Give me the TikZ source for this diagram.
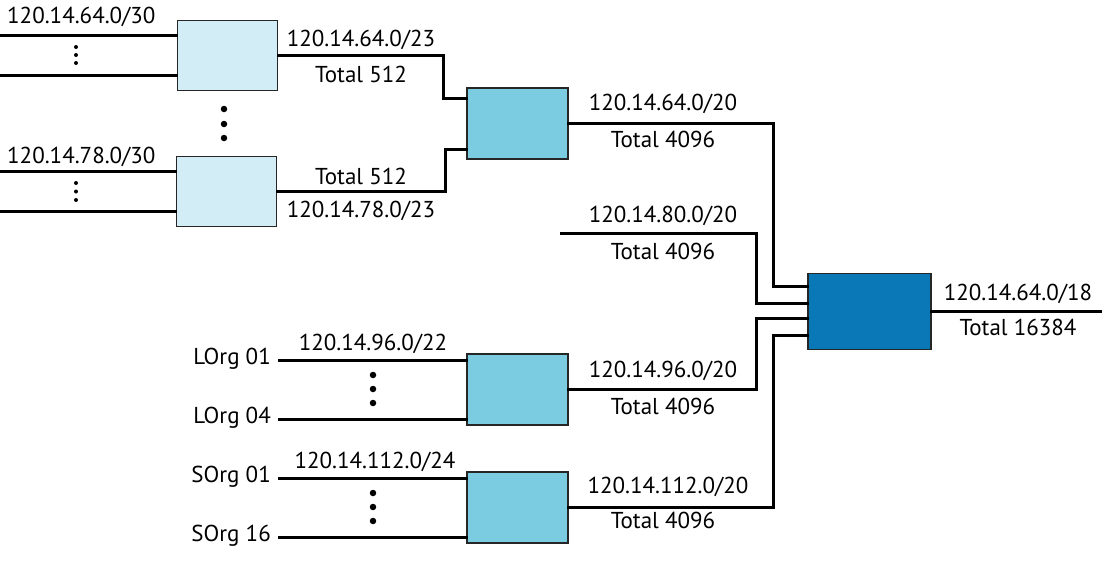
\documentclass[tikz,border=0pt]{standalone}
\usepackage{fontspec}
\setmainfont{PT Sans}
\begin{document}
\begin{tikzpicture}[x=1pt,y=-1pt,
  box/.style={draw=black!85,line width=1.4pt,inner sep=0pt},
  lbox/.style={box,fill=lightbox,minimum width=100pt,minimum height=70pt},
  mbox/.style={box,fill=midbox,minimum width=101pt,minimum height=71pt},
  dbox/.style={box,fill=darkbox,minimum width=123pt,minimum height=76pt},
  wire/.style={line width=2.8pt,line cap=rect},
  lbl/.style={inner sep=0pt,font=\fontsize{23}{23}\selectfont},
  sdot/.style={circle,fill=black,inner sep=0pt,minimum size=4pt},
  bdot/.style={circle,fill=black,inner sep=0pt,minimum size=6.5pt}]
\definecolor{lightbox}{HTML}{D2EDF5}
\definecolor{midbox}{HTML}{7BCCE1}
\definecolor{darkbox}{HTML}{0A77B7}
\useasboundingbox (0,0) rectangle (1104,574);

% boxes
\node[lbox] (A) at (227.5,55.5) {};
\node[lbox] (B) at (226.5,191.5) {};
\node[mbox] (C) at (517.5,123.5) {};
\node[dbox] (D) at (869.5,311.5) {};
\node[mbox] (E) at (517.5,389.5) {};
\node[mbox] (F) at (517.5,507.5) {};

% free ends
\coordinate (a1) at (0,35.5);
\coordinate (a2) at (0,75.5);
\coordinate (b1) at (0,171.5);
\coordinate (b2) at (0,211.5);
\coordinate (p80) at (561,233.5);
\coordinate (e1) at (279,360.5);
\coordinate (e2) at (279,419.5);
\coordinate (f1) at (279,478.5);
\coordinate (f2) at (279,537.5);
\coordinate (out) at (1101,311.5);

% input wires
\draw[wire] (a1) -- (a1 -| A.west);
\draw[wire] (a2) -- (a2 -| A.west);
\draw[wire] (b1) -- (b1 -| B.west);
\draw[wire] (b2) -- (b2 -| B.west);
\draw[wire] (e1) -- (e1 -| E.west);
\draw[wire] (e2) -- (e2 -| E.west);
\draw[wire] (f1) -- (f1 -| F.west);
\draw[wire] (f2) -- (f2 -| F.west);

% aggregation wires
\draw[wire] (A.east) -- (443.5,55.5) -- (443.5,98.5) -- (C.west |- 0,98.5);
\draw[wire] (B.east) -- (445.5,191.5) -- (445.5,149.5) -- (C.west |- 0,149.5);
\draw[wire] (C.east) -- (773.5,123.5) -- (773.5,286.5) -- (D.west |- 0,286.5);
\draw[wire] (p80) -- (756.5,233.5) -- (756.5,303.5) -- (D.west |- 0,303.5);
\draw[wire] (E.east) -- (756.5,389.5) -- (756.5,318.5) -- (D.west |- 0,318.5);
\draw[wire] (F.east) -- (773.5,507.5) -- (773.5,335.5) -- (D.west |- 0,335.5);
\draw[wire] (D.east) -- (out);

% dots
\foreach \y in {47,55,63} \node[sdot] (da\y) at (76,\y) {};
\foreach \y in {183,191.5,200} \node[sdot] (db\y) at (76,\y) {};
\foreach \y in {109,124,138} \node[bdot] (dm\y) at (224,\y) {};
\foreach \y in {375,389,403} \node[bdot] (de\y) at (373,\y) {};
\foreach \y in {493,507,521} \node[bdot] (df\y) at (373,\y) {};

% labels
\node[lbl,anchor=west] (t1) at (7,17) {120.14.64.0/30};
\node[lbl,anchor=west] (t2) at (7,157) {120.14.78.0/30};
\node[lbl] (t3) at (361,40) {120.14.64.0/23};
\node[lbl] (t4) at (361,74) {Total 512};
\node[lbl] (t5) at (361,176) {Total 512};
\node[lbl] (t6) at (361,211) {120.14.78.0/23};
\node[lbl] (t7) at (663,104) {120.14.64.0/20};
\node[lbl] (t8) at (663,139) {Total 4096};
\node[lbl] (t9) at (663,216) {120.14.80.0/20};
\node[lbl] (t10) at (663,251) {Total 4096};
\node[lbl] (t11) at (663,371) {120.14.96.0/20};
\node[lbl] (t12) at (663,406) {Total 4096};
\node[lbl] (t13) at (668,487) {120.14.112.0/20};
\node[lbl] (t14) at (663,520) {Total 4096};
\node[lbl] (t15) at (1018,294) {120.14.64.0/18};
\node[lbl] (t16) at (1018,327) {Total 16384};
\node[lbl] (t17) at (373,344) {120.14.96.0/22};
\node[lbl] (t18) at (375,462) {120.14.112.0/24};
\node[lbl,anchor=east] (t19) at (271,359) {LOrg 01};
\node[lbl,anchor=east] (t20) at (271,418) {LOrg 04};
\node[lbl,anchor=east] (t21) at (271,477) {SOrg 01};
\node[lbl,anchor=east] (t22) at (271,536) {SOrg 16};
\end{tikzpicture}
\end{document}
